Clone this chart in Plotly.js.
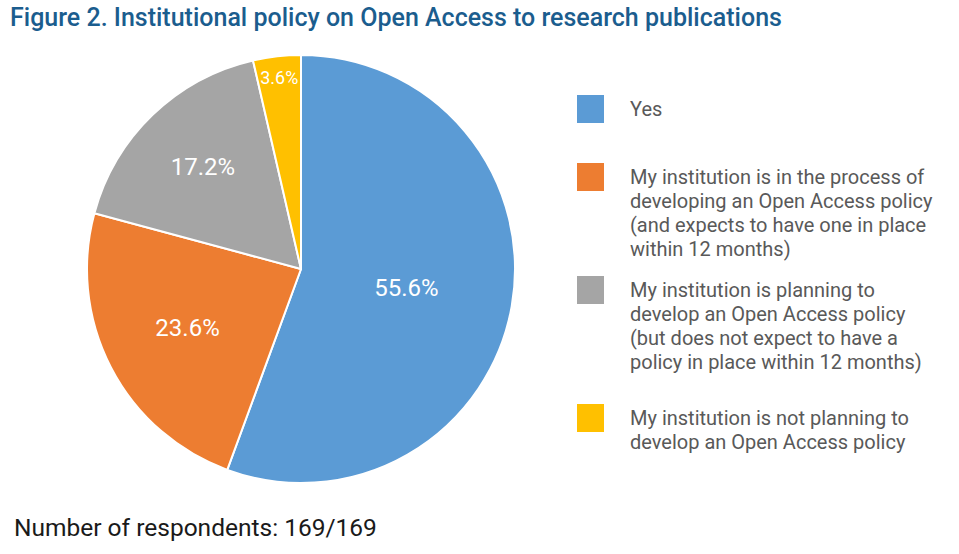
<!DOCTYPE html>
<html>
<head>
<meta charset="utf-8">
<script src="https://cdn.plot.ly/plotly-3.0.1.min.js"></script>
<style>html,body{margin:0;padding:0;background:#fff;}#chart{width:959px;height:554px;}</style>
</head>
<body>
<div id="chart"></div>
<script>
var categories = [
  "Yes",
  "My institution is in the process of<br>developing an Open Access policy<br>(and expects to have one in place<br>within 12 months)",
  "My institution is planning to<br>develop an Open Access policy<br>(but does not expect to have a<br>policy in place within 12 months)",
  "My institution is not planning to<br>develop an Open Access policy"
];
var percentages = [55.6, 23.6, 17.2, 3.6];
var colors = ["#5b9bd5", "#ed7d31", "#a5a5a5", "#ffc000"];
var titleText = "Figure 2. Institutional policy on Open Access to research publications";
var footerText = "Number of respondents: 169/169";

var W = 959, H = 554;
var FONT = "Roboto, 'Open Sans', sans-serif";

var trace = {
  type: "pie",
  values: percentages,
  labels: categories,
  marker: {colors: colors, line: {color: "#ffffff", width: 2}},
  sort: false,
  direction: "clockwise",
  rotation: 0,
  texttemplate: "%{value:.1f}%",
  textposition: "inside",
  insidetextorientation: "horizontal",
  textfont: {family: FONT, size: 24, color: "#ffffff"},
  hoverinfo: "label+value",
  domain: {x: [87 / W, 515 / W], y: [1 - 483 / H, 1 - 55 / H]},
  showlegend: false
};

// custom legend built from the category/colour arrays
var legendTops = [109, 177, 290, 418]; // centre of first text line (px)
var lineGap = 24;
var shapes = [], annotations = [];
categories.forEach(function (c, i) {
  var cy = legendTops[i];
  shapes.push({
    type: "rect", xref: "paper", yref: "paper",
    x0: 577 / W, x1: 604 / W,
    y0: 1 - (cy + 14) / H, y1: 1 - (cy - 14) / H,
    fillcolor: colors[i], line: {width: 0}
  });
  c.split("<br>").forEach(function (line, j) {
    annotations.push({
      xref: "paper", yref: "paper", x: 628 / W, y: 1 - (cy + j * lineGap) / H,
      xanchor: "left", yanchor: "middle", align: "left", showarrow: false,
      text: line, font: {family: FONT, size: 20, color: "#595959"}
    });
  });
});
annotations.push({
  xref: "paper", yref: "paper", x: 12 / W, y: 1 - 527 / H,
  xanchor: "left", yanchor: "middle", showarrow: false,
  text: footerText, font: {family: FONT, size: 24.5, color: "#1a1a1a"}
});

var layout = {
  width: W, height: H,
  margin: {l: 0, r: 0, t: 0, b: 0},
  paper_bgcolor: "#ffffff",
  title: {
    text: titleText, x: 10 / W, xanchor: "left", xref: "paper",
    y: 1 - 17 / H, yanchor: "middle", yref: "paper",
    font: {family: FONT, size: 25, color: "#1b5d8e", weight: 500}
  },
  shapes: shapes,
  annotations: annotations,
  showlegend: false
};

Plotly.newPlot("chart", [trace], layout, {displayModeBar: false, staticPlot: true});
</script>
</body>
</html>
